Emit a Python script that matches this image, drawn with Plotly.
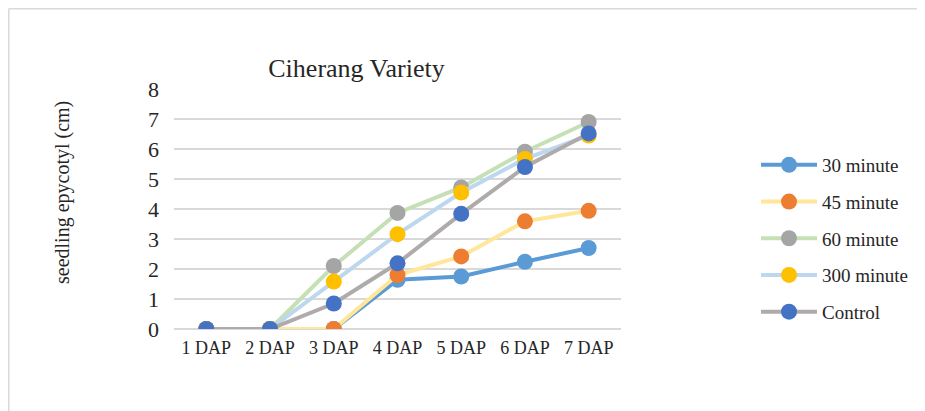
import plotly.graph_objects as go

categories = ["1 DAP", "2 DAP", "3 DAP", "4 DAP", "5 DAP", "6 DAP", "7 DAP"]
series_names = ["30 minute", "45 minute", "60 minute", "300 minute", "Control"]
v30 = [0, 0, 0, 1.64, 1.75, 2.24, 2.70]
v45 = [0, 0, 0, 1.80, 2.42, 3.59, 3.94]
v60 = [0, 0, 2.10, 3.87, 4.72, 5.91, 6.90]
v300 = [0, 0, 1.58, 3.16, 4.55, 5.67, 6.45]
vctrl = [0, 0, 0.85, 2.19, 3.84, 5.40, 6.52]
values = [v30, v45, v60, v300, vctrl]
line_colors = ["#5B9BD5", "#FFE699", "#C5E0B4", "#BDD7EE", "#AFABAB"]
marker_colors = ["#5B9BD5", "#ED7D31", "#A5A5A5", "#FFC000", "#4472C4"]

FONT = "Liberation Serif"

fig = go.Figure()
for i, (name, vals) in enumerate(zip(series_names, values)):
    fig.add_trace(go.Scatter(
        x=categories, y=vals, name=name, mode="lines+markers",
        line=dict(color=line_colors[i], width=4),
        marker=dict(color=marker_colors[i], size=16,
                    line=dict(color=marker_colors[i], width=0)),
        legendgroup=f"g{i}",
    ))

OFF = 8  # page body margin offset
W, H = 925 - OFF, 411 - OFF
# reference pixel positions (screen) of plot area
SX0, SX1, SY0, SY1 = 174, 621, 89, 329
L, T = SX0 - OFF, SY0 - OFF
R, B = W - (SX1 - OFF), H - (SY1 - OFF)
pw, ph = SX1 - SX0, SY1 - SY0

def px(x):
    return (x - SX0) / pw

def py(y):
    return (SY1 - y) / ph

fig.update_layout(
    width=W, height=H,
    margin=dict(l=L, r=R, t=T, b=B, autoexpand=False),
    paper_bgcolor="white", plot_bgcolor="white",
    font=dict(family=FONT, color="#262626"),
    title=dict(text="Ciherang Variety", xref="container", yref="container",
               x=(356.5 - OFF) / W, y=1 - (68 - OFF) / H,
               xanchor="center", yanchor="middle",
               font=dict(size=26, color="#262626", family=FONT)),
    xaxis=dict(type="category", showgrid=False, zeroline=False, showline=False,
               ticks="", tickfont=dict(size=18, color="#262626", family=FONT),
               ticklabelstandoff=6),
    yaxis=dict(range=[0, 8], dtick=1, showgrid=True, gridcolor="#D9D9D9",
               gridwidth=1.5, zeroline=True, zerolinecolor="#D9D9D9",
               zerolinewidth=1.5, showline=False, ticks="",
               tickfont=dict(size=22, color="#262626", family=FONT),
               ticklabelstandoff=14),
    showlegend=True,
    legend=dict(x=px(756), y=py(146), xanchor="left", yanchor="top",
                font=dict(size=19, color="#262626", family=FONT),
                tracegroupgap=9, itemwidth=56, bgcolor="rgba(0,0,0,0)"),
    shapes=[
        dict(type="line", xref="paper", yref="paper", x0=px(8.8), x1=px(8.8),
             y0=py(420), y1=py(8.8), line=dict(color="#D9D9D9", width=1.5)),
        dict(type="line", xref="paper", yref="paper", x0=px(8.8), x1=px(940),
             y0=py(8.8), y1=py(8.8), line=dict(color="#D9D9D9", width=1.5)),
    ],
    annotations=[
        dict(text="seedling epycotyl (cm)", xref="paper", yref="paper",
             x=px(62), y=py(193), showarrow=False, textangle=-90,
             xanchor="center", yanchor="middle",
             font=dict(size=20, color="#262626", family=FONT)),
    ],
)

fig.write_html("out.html")
